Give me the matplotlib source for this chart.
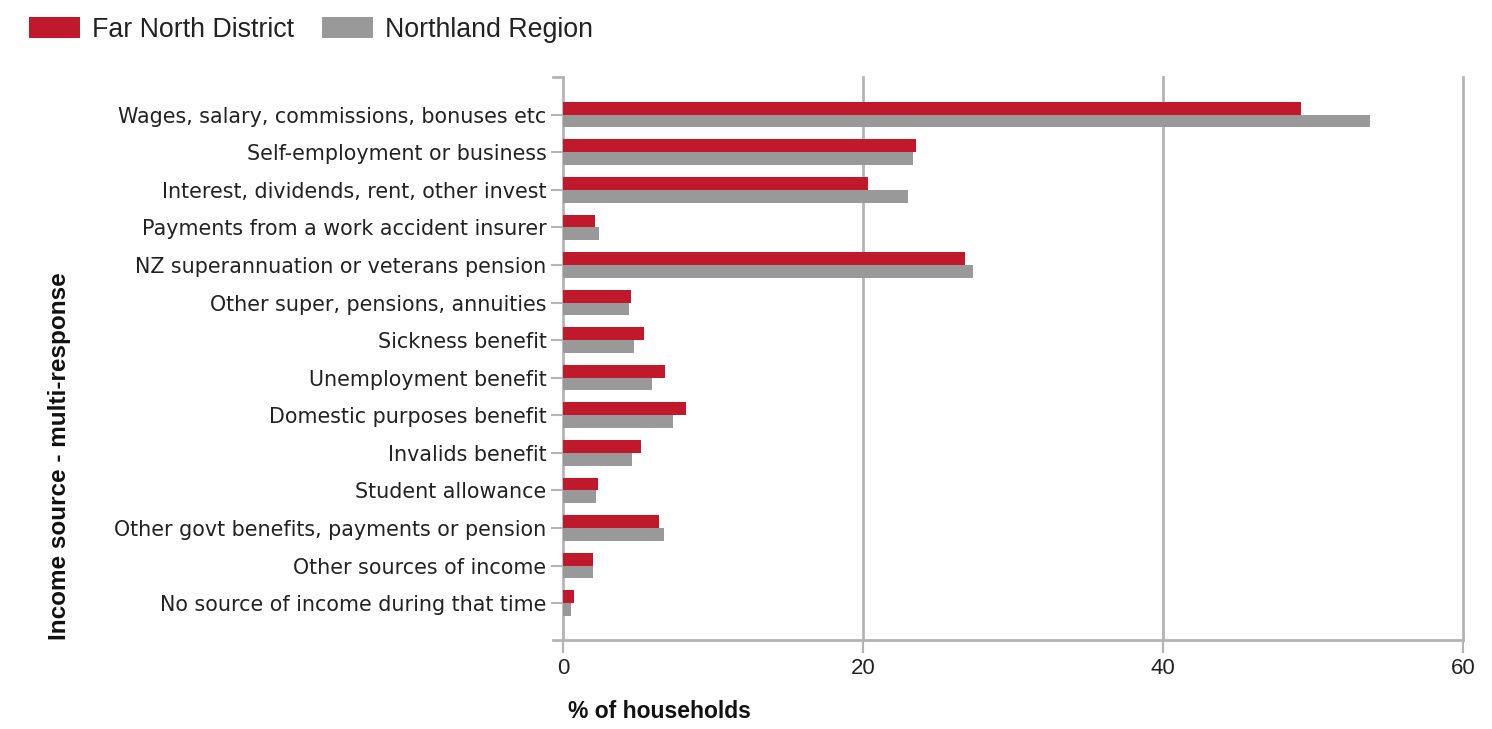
import numpy as np
import matplotlib.pyplot as plt

plt.rcParams["font.family"] = ["Liberation Sans", "DejaVu Sans"]

# Income sources (multi-response), % of households
categories = [
    "Wages, salary, commissions, bonuses etc",
    "Self-employment or business",
    "Interest, dividends, rent, other invest",
    "Payments from a work accident insurer",
    "NZ superannuation or veterans pension",
    "Other super, pensions, annuities",
    "Sickness benefit",
    "Unemployment benefit",
    "Domestic purposes benefit",
    "Invalids benefit",
    "Student allowance",
    "Other govt benefits, payments or pension",
    "Other sources of income",
    "No source of income during that time",
]
far_north = [49.2, 23.5, 20.3, 2.1, 26.8, 4.5, 5.4, 6.8, 8.2, 5.2, 2.3, 6.4, 2.0, 0.7]
northland = [53.8, 23.3, 23.0, 2.4, 27.3, 4.4, 4.7, 5.9, 7.3, 4.6, 2.2, 6.7, 2.0, 0.5]
x_ticks = [0, 20, 40, 60]

RED = "#c0192b"
GREY = "#999999"
AXIS = "#b4b4b4"

W, H = 1492, 729
fig = plt.figure(figsize=(W / 100, H / 100), dpi=100)
ax = fig.add_axes([553 / W, 1 - 640 / H, (1463 - 553) / W, (640 - 77) / H])

# axis lines first: moving a spine resets the tick labels
for s in ("top", "right"):
    ax.spines[s].set_visible(False)
ax.spines["left"].set_position(("data", 0))
ax.spines["left"].set_color(AXIS)
ax.spines["bottom"].set_color(AXIS)
ax.spines["left"].set_linewidth(2)
ax.spines["bottom"].set_linewidth(2)

y = np.arange(len(categories))
h = 0.34
ax.barh(y - h / 2, far_north, height=h, color=RED, label="Far North District", zorder=3)
ax.barh(y + h / 2, northland, height=h, color=GREY, label="Northland Region", zorder=3)

ax.set_xlim(-0.67, 60)
ax.set_ylim(len(categories) - 0.02, -1.0)

ax.set_xticks(x_ticks)
ax.set_xticklabels([str(t) for t in x_ticks], fontsize=16, color="#222222")
ax.set_yticks(y)
ax.set_yticklabels(categories, fontsize=14.9, color="#222222", family="DejaVu Sans")
ax.tick_params(axis="y", length=9, width=1.5, color=AXIS, pad=3)
ax.tick_params(axis="x", length=9, width=1.5, color=AXIS, pad=4)
for t in x_ticks[1:]:
    ax.axvline(t, color=AXIS, lw=2, zorder=1, clip_on=False)

# short stub at the top of the category axis
ax.plot([-0.67, 0], [-1.0, -1.0], color=AXIS, lw=2, clip_on=False)

fig.text(568 / W, 1 - 712 / H, "% of households", fontsize=16.5, fontweight="bold",
         ha="left", va="center", color="#111111")
fig.text(60 / W, 1 - 640 / H, "Income source - multi-response", fontsize=17.5,
         fontweight="bold", rotation=90, ha="center", va="bottom", color="#111111")

fig.legend(loc="upper left", bbox_to_anchor=(18 / W, 1 - 6 / H), ncol=2, frameon=False,
           fontsize=19.3, handlelength=1.9, handleheight=0.82, handletextpad=0.45,
           columnspacing=1.05, borderaxespad=0, labelcolor="#222222")

fig.savefig("out.png", dpi=100)
